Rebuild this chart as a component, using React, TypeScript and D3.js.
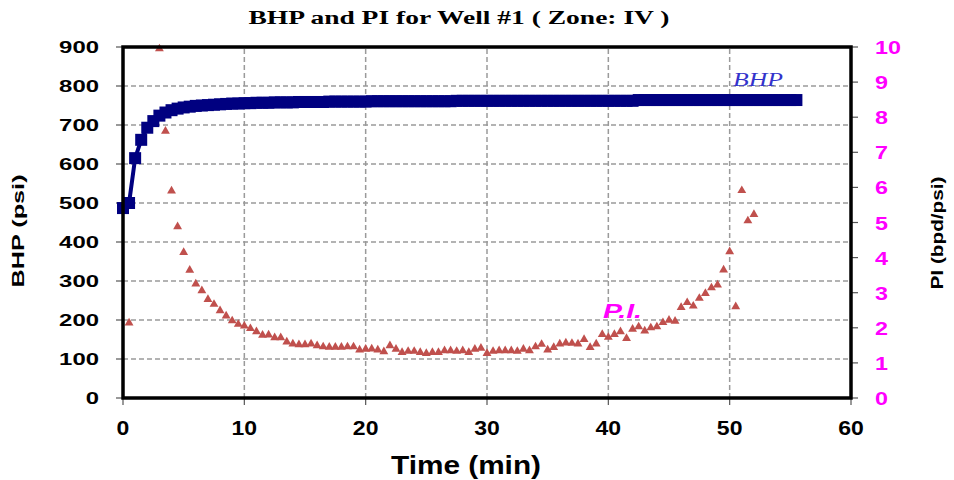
import React from 'react';
import * as d3 from 'd3';

const bhpTime = [
  0, 0.5, 1, 1.5, 2, 2.5, 3, 3.5, 4, 4.5, 5, 5.5, 6, 6.5, 7, 7.5, 8, 8.5, 9, 9.5,
  10, 10.5, 11, 11.5, 12, 12.5, 13, 13.5, 14, 14.5, 15, 15.5, 16, 16.5, 17, 17.5, 18, 18.5, 19, 19.5,
  20, 20.5, 21, 21.5, 22, 22.5, 23, 23.5, 24, 24.5, 25, 25.5, 26, 26.5, 27, 27.5, 28, 28.5, 29, 29.5,
  30, 30.5, 31, 31.5, 32, 32.5, 33, 33.5, 34, 34.5, 35, 35.5, 36, 36.5, 37, 37.5, 38, 38.5, 39, 39.5,
  40, 40.5, 41, 41.5, 42, 42.5, 43, 43.5, 44, 44.5, 45, 45.5, 46, 46.5, 47, 47.5, 48, 48.5, 49, 49.5,
  50, 50.5, 51, 51.5, 52, 52.5, 53, 53.5, 54, 54.5, 55, 55.5,
];
const bhpValue = [
  487, 500, 615, 662, 693, 710, 724, 732, 738, 742, 745, 747, 749, 750, 751, 752, 753, 754, 755, 755,
  756, 756, 757, 757, 757, 758, 758, 758, 758, 759, 759, 759, 759, 759, 760, 760, 760, 760, 760, 760,
  760, 761, 761, 761, 761, 761, 761, 761, 761, 761, 761, 761, 761, 761, 761, 762, 762, 762, 762, 762,
  762, 762, 762, 762, 762, 762, 762, 762, 762, 762, 762, 762, 762, 762, 762, 762, 762, 762, 762, 762,
  762, 762, 762, 762, 762, 764, 764, 764, 764, 764, 764, 764, 764, 764, 764, 764, 764, 764, 764, 764,
  764, 764, 764, 764, 764, 764, 764, 764, 764, 764, 764, 764,
];

const piTime = [
  0.5, 3, 3.5, 4, 4.5, 5, 5.5, 6, 6.5, 7, 7.5, 8, 8.5, 9, 9.5,
  10, 10.5, 11, 11.5, 12, 12.5, 13, 13.5, 14, 14.5, 15, 15.5, 16, 16.5, 17, 17.5, 18, 18.5, 19, 19.5,
  20, 20.5, 21, 21.5, 22, 22.5, 23, 23.5, 24, 24.5, 25, 25.5, 26, 26.5, 27, 27.5, 28, 28.5, 29, 29.5,
  30, 30.5, 31, 31.5, 32, 32.5, 33, 33.5, 34, 34.5, 35, 35.5, 36, 36.5, 37, 37.5, 38, 38.5, 39, 39.5,
  40, 40.5, 41, 41.5, 42, 42.5, 43, 43.5, 44, 44.5, 45, 45.5, 46, 46.5, 47, 47.5, 48, 48.5, 49, 49.5,
  50, 50.5, 51, 51.5, 52,
];
const piValue = [
  2.14, 9.95, 7.6, 5.9, 4.88, 4.15, 3.64, 3.25, 3.06, 2.81, 2.67, 2.49, 2.34, 2.2, 2.1,
  2.05, 1.98, 1.89, 1.79, 1.8, 1.72, 1.72, 1.6, 1.54, 1.52, 1.52, 1.54, 1.49, 1.46, 1.45, 1.45, 1.45, 1.46, 1.46, 1.37,
  1.39, 1.4, 1.37, 1.32, 1.49, 1.39, 1.3, 1.33, 1.33, 1.3, 1.27, 1.3, 1.3, 1.35, 1.35, 1.33, 1.35, 1.3, 1.39, 1.42,
  1.27, 1.33, 1.35, 1.35, 1.35, 1.33, 1.39, 1.35, 1.46, 1.53, 1.37, 1.44, 1.54, 1.57, 1.56, 1.54, 1.67, 1.44, 1.54, 1.81,
  1.73, 1.81, 1.89, 1.7, 1.96, 2.03, 1.91, 2.0, 2.03, 2.15, 2.22, 2.19, 2.58, 2.72, 2.62, 2.84, 2.98, 3.14, 3.22, 3.65,
  4.17, 2.6, 5.91, 5.05, 5.23,
];

const xTicks = [0, 10, 20, 30, 40, 50, 60];
const bhpTicks = [0, 100, 200, 300, 400, 500, 600, 700, 800, 900];
const piTicks = [0, 1, 2, 3, 4, 5, 6, 7, 8, 9, 10];

const title = 'BHP and PI for Well #1 ( Zone: IV )';

export default function App() {
  const x = d3.scaleLinear().domain([0, 60]).range([123, 851]);
  const yL = d3.scaleLinear().domain([0, 900]).range([398, 47]);
  const yR = d3.scaleLinear().domain([0, 10]).range([398, 47]);

  const bhpData: [number, number][] = bhpTime.map((t, i) => [t, bhpValue[i]]);
  const piData: [number, number][] = piTime.map((t, i) => [t, piValue[i]]);

  const line = d3
    .line<[number, number]>()
    .x((d) => x(d[0]))
    .y((d) => yL(d[1]));
  const tri = d3.symbol().type(d3.symbolTriangle).size(34)() as string;

  const gridColor = '#9a9a9a';
  const sans = "'Liberation Sans', Arial, sans-serif";
  const serif = "'Liberation Serif', 'Times New Roman', serif";

  return (
    <svg
      width={954}
      height={480}
      style={{ position: 'absolute', left: 0, top: 0, background: '#fff' }}
    >
      <rect x={0} y={0} width={954} height={480} fill="#fff" />
      <text
        x={459}
        y={24}
        textAnchor="middle"
        fontFamily={serif}
        fontWeight="bold"
        fontSize={18}
        textLength={421}
        lengthAdjust="spacingAndGlyphs"
        fill="#000"
      >
        {title}
      </text>

      {bhpTicks
        .filter((v) => v > 0 && v < 900)
        .map((v) => (
          <line
            key={'h' + v}
            x1={x(0)}
            x2={x(60)}
            y1={yL(v)}
            y2={yL(v)}
            stroke={gridColor}
            strokeWidth={1.5}
            strokeDasharray="5 3"
          />
        ))}
      {xTicks
        .filter((v) => v > 0 && v < 60)
        .map((v) => (
          <line
            key={'v' + v}
            x1={x(v)}
            x2={x(v)}
            y1={yL(0)}
            y2={yL(900)}
            stroke={gridColor}
            strokeWidth={1.5}
            strokeDasharray="5 3"
          />
        ))}

      {bhpTicks.map((v) => (
        <g key={'lt' + v}>
          <line x1={x(0) - 7} x2={x(0)} y1={yL(v)} y2={yL(v)} stroke="#555" strokeWidth={1.2} />
          <text
            x={99}
            y={yL(v) + 6.3}
            textAnchor="end"
            fontFamily={sans}
            fontWeight="bold"
            fontSize={17}
            textLength={13.3 * String(v).length}
            lengthAdjust="spacingAndGlyphs"
            fill="#000"
          >
            {v}
          </text>
        </g>
      ))}
      {piTicks.map((v) => (
        <g key={'rt' + v}>
          <line x1={x(60)} x2={x(60) + 7} y1={yR(v)} y2={yR(v)} stroke="#555" strokeWidth={1.2} />
          <text
            x={875}
            y={yR(v) + 7}
            textAnchor="start"
            fontFamily={sans}
            fontWeight="bold"
            fontSize={19}
            textLength={13 * String(v).length}
            lengthAdjust="spacingAndGlyphs"
            fill="#ff00ff"
          >
            {v}
          </text>
        </g>
      ))}
      {xTicks.map((v) => (
        <g key={'bt' + v}>
          <line x1={x(v)} x2={x(v)} y1={yL(0)} y2={yL(0) + 7} stroke="#555" strokeWidth={1.2} />
          <text
            x={x(v)}
            y={435}
            textAnchor="middle"
            fontFamily={sans}
            fontWeight="bold"
            fontSize={20}
            textLength={12.8 * String(v).length}
            lengthAdjust="spacingAndGlyphs"
            fill="#000"
          >
            {v}
          </text>
        </g>
      ))}

      <path d={line(bhpData) as string} fill="none" stroke="#000080" strokeWidth={4} />
      {bhpData.map((d, i) => (
        <rect
          key={'b' + i}
          x={x(d[0]) - 6}
          y={yL(d[1]) - 6}
          width={12}
          height={12}
          fill="#000080"
        />
      ))}

      {piData.map((d, i) => (
        <path
          key={'p' + i}
          d={tri}
          transform={`translate(${x(d[0])},${yR(d[1])})`}
          fill="#c0504d"
        />
      ))}

      <rect
        x={x(0)}
        y={yL(900)}
        width={x(60) - x(0)}
        height={yL(0) - yL(900)}
        fill="none"
        stroke="#000"
        strokeWidth={3.5}
      />

      <text
        x={733}
        y={86}
        fontFamily={serif}
        fontStyle="italic"
        fontSize={19}
        textLength={50}
        lengthAdjust="spacingAndGlyphs"
        fill="#3333cc"
      >
        BHP
      </text>
      <text
        x={603}
        y={318}
        fontFamily={sans}
        fontStyle="italic"
        fontWeight="bold"
        fontSize={20}
        textLength={39}
        lengthAdjust="spacingAndGlyphs"
        fill="#ff00ff"
      >
        P.I.
      </text>

      <text
        x={466}
        y={474}
        textAnchor="middle"
        fontFamily={sans}
        fontWeight="bold"
        fontSize={26}
        textLength={150}
        lengthAdjust="spacingAndGlyphs"
        fill="#000"
      >
        Time (min)
      </text>
      <text
        transform="translate(24,231) rotate(-90)"
        textAnchor="middle"
        fontFamily={sans}
        fontWeight="bold"
        fontSize={16.5}
        textLength={113}
        lengthAdjust="spacingAndGlyphs"
        fill="#000"
      >
        BHP (psi)
      </text>
      <text
        transform="translate(943,233) rotate(-90)"
        textAnchor="middle"
        fontFamily={sans}
        fontWeight="bold"
        fontSize={16.5}
        textLength={113}
        lengthAdjust="spacingAndGlyphs"
        fill="#000"
      >
        PI (bpd/psi)
      </text>
    </svg>
  );
}
